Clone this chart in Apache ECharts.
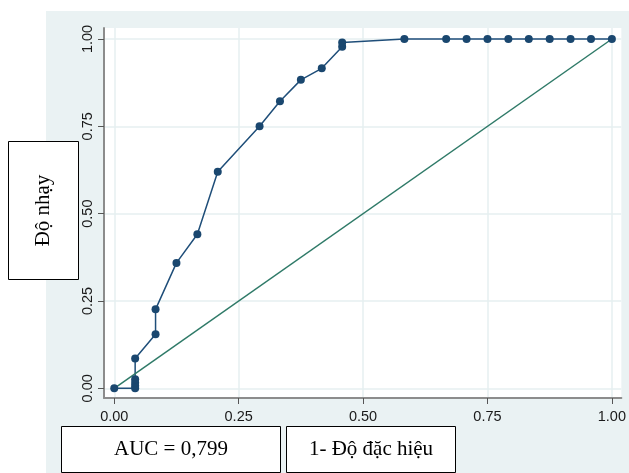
<!DOCTYPE html>
<html>
<head>
<meta charset="utf-8">
<title>ROC</title>
<script src="https://cdn.jsdelivr.net/npm/echarts@6/dist/echarts.min.js"></script>
<style>
  html, body { margin: 0; padding: 0; background: #fff; }
  #wrap { position: relative; width: 629px; height: 473px; }
  #bg { position: absolute; left: 46px; top: 11px; right: 0; bottom: 0; background: #eaf2f3; }
  #main { position: absolute; left: 0; top: 0; width: 629px; height: 473px; }
</style>
</head>
<body>
<div id="wrap">
  <div id="bg"></div>
  <div id="main"></div>
</div>
<script>
// 1 - specificity
var rocX = [0, 0.042, 0.042, 0.042, 0.042, 0.042, 0.083, 0.083, 0.125, 0.167, 0.208,
  0.292, 0.333, 0.375, 0.417, 0.458, 0.458, 0.583, 0.667, 0.708, 0.75, 0.792,
  0.833, 0.875, 0.917, 0.958, 1]
// sensitivity
var rocY = [0, 0, 0.007, 0.016, 0.026, 0.085, 0.155, 0.226, 0.359, 0.441, 0.62,
  0.75, 0.822, 0.883, 0.916, 0.978, 0.99, 1, 1, 1, 1, 1,
  1, 1, 1, 1, 1]
var diagX = [0, 1]
var diagY = [0, 1]
var tickValues = [0, 0.25, 0.5, 0.75, 1]
var yTitle = 'Độ nhạy'
var xTitle = '1- Độ đặc hiệu'
var aucText = 'AUC = 0,799'

var chart = echarts.init(document.getElementById('main'))

function pairs (xs, ys) {
  var arr = []
  xs.forEach(function (x, i) { arr.push([x, ys[i]]) })
  return arr
}

function fmt (v) { return v.toFixed(2) }

var boxFont = '"Liberation Serif", "Times New Roman", serif'
var tickFont = '"Liberation Sans", Arial, sans-serif'

chart.setOption({
  animation: false,
  grid: {
    left: 104,
    right: 7,
    top: 28,
    bottom: 75,
    show: true,
    backgroundColor: '#fff',
    borderWidth: 0
  },
  xAxis: {
    type: 'value',
    min: -0.0206,
    max: 1.019,
    axisLine: { show: true, onZero: false, lineStyle: { color: '#8c8c8c', width: 2 } },
    axisTick: { show: true, customValues: tickValues, length: 6, lineStyle: { color: '#555' } },
    axisLabel: {
      customValues: tickValues,
      formatter: fmt,
      margin: 11,
      color: '#1a1a1a',
      fontSize: 14.5,
      fontFamily: tickFont
    },
    splitLine: { show: true, lineStyle: { color: '#e6eff1', width: 1.5 } }
  },
  yAxis: {
    type: 'value',
    min: -0.0278,
    max: 1.0315,
    axisLine: { show: true, onZero: false, lineStyle: { color: '#8c8c8c', width: 2 } },
    axisTick: { show: true, customValues: tickValues, length: 6, lineStyle: { color: '#555' } },
    axisLabel: {
      customValues: tickValues,
      formatter: fmt,
      rotate: 90,
      margin: 9,
      color: '#1a1a1a',
      fontSize: 14.5,
      fontFamily: tickFont
    },
    splitLine: { show: true, lineStyle: { color: '#e6eff1', width: 1.5 } }
  },
  series: [
    {
      type: 'line',
      data: pairs(rocX, rocY),
      symbol: 'circle',
      symbolSize: 8,
      lineStyle: { color: '#1f4e79', width: 1.5 },
      itemStyle: { color: '#1a476f' }
    },
    {
      type: 'line',
      data: pairs(diagX, diagY),
      symbol: 'none',
      lineStyle: { color: '#2f7a68', width: 1.5 }
    }
  ],
  graphic: [
    {
      type: 'group',
      left: 8,
      top: 141,
      children: [
        { type: 'rect', shape: { x: 0, y: 0, width: 70, height: 138 },
          style: { fill: '#fff', stroke: '#000', lineWidth: 1 } },
        { type: 'text', x: 35, y: 69, rotation: Math.PI / 2,
          style: { text: yTitle, font: '21px ' + boxFont, fill: '#000',
            align: 'center', verticalAlign: 'middle' } }
      ]
    },
    {
      type: 'group',
      left: 61,
      top: 426,
      children: [
        { type: 'rect', shape: { x: 0, y: 0, width: 219, height: 46 },
          style: { fill: '#fff', stroke: '#000', lineWidth: 1 } },
        { type: 'text', x: 109.5, y: 23,
          style: { text: aucText, font: '21px ' + boxFont, fill: '#000',
            align: 'center', verticalAlign: 'middle' } }
      ]
    },
    {
      type: 'group',
      left: 286,
      top: 426,
      children: [
        { type: 'rect', shape: { x: 0, y: 0, width: 169, height: 46 },
          style: { fill: '#fff', stroke: '#000', lineWidth: 1 } },
        { type: 'text', x: 84.5, y: 23,
          style: { text: xTitle, font: '21px ' + boxFont, fill: '#000',
            align: 'center', verticalAlign: 'middle' } }
      ]
    }
  ]
})
</script>
</body>
</html>
